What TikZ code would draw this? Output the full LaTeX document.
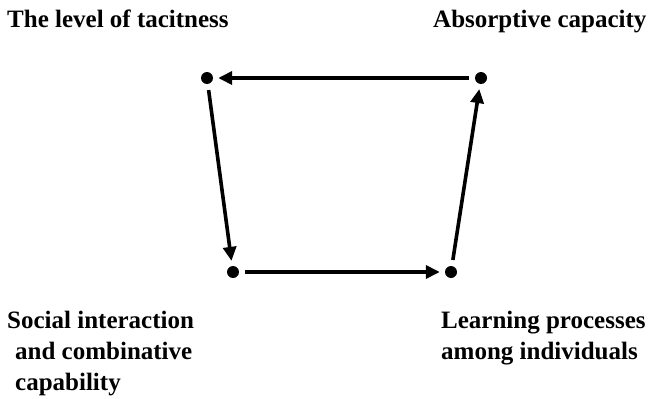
\documentclass[tikz,border=0pt]{standalone}
\usepackage{fontspec}
\setmainfont{Liberation Serif}
\usetikzlibrary{arrows.meta}

\begin{document}
\begin{tikzpicture}[x=1pt,y=-1pt,>={Triangle[length=14pt,width=13pt]},
  dot/.style={circle,fill=black,inner sep=0pt,minimum size=12pt},
  lbl/.style={font=\fontsize{25}{31}\selectfont\bfseries,inner sep=0pt,align=left},
  link/.style={->,line width=3.6pt,shorten <=6pt,shorten >=5pt}]
  \useasboundingbox (0,0) rectangle (649,399);
  \node[dot] (tacit) at (207,78) {};
  \node[dot] (absorb) at (481,78) {};
  \node[dot] (social) at (233,272) {};
  \node[dot] (learn) at (451,272) {};
  \node[lbl,anchor=base west] (tacitlbl) at (7,27) {The level of tacitness};
  \node[lbl,anchor=base west] (absorblbl) at (433,27) {Absorptive capacity};
  % base of a multi-line label sits on its last line
  \node[lbl,anchor=base west] (sociallbl) at (7,390)
    {Social interaction\\\hspace*{8pt}and combinative\\\hspace*{8pt}capability};
  \node[lbl,anchor=base west] (learnlbl) at (441,359)
    {Learning processes\\among individuals};
  \draw[link](absorb)--(tacit);
  \draw[link](tacit)--(social);
  \draw[link](social)--(learn);
  \draw[link](learn)--(absorb);
\end{tikzpicture}
\end{document}
